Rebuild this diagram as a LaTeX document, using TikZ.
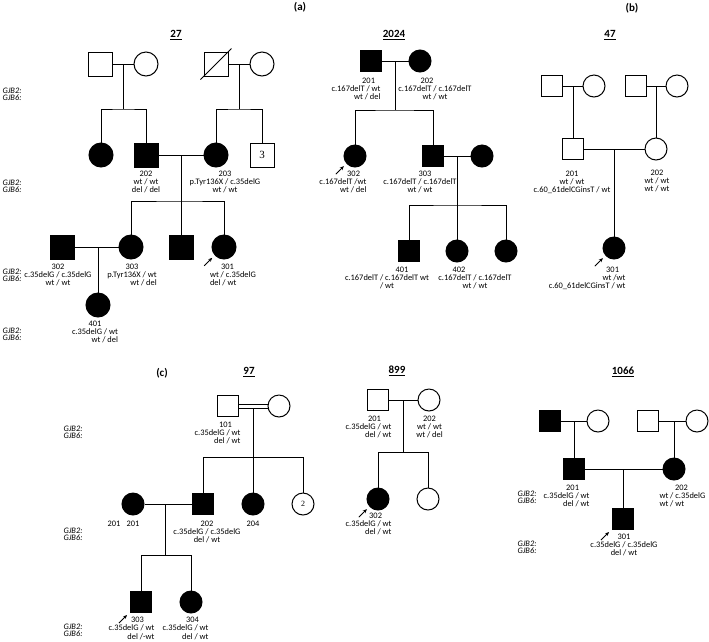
\documentclass[tikz,border=0pt]{standalone}
\usepackage{fontspec}
\setmainfont{Carlito}
\newfontfamily\numfont{Liberation Serif}
\usetikzlibrary{arrows.meta}
\newcommand\lblfont{\fontsize{8.4}{8}\selectfont}
\newcommand\genefont{\fontsize{8.4}{7}\selectfont\itshape}
\newcommand\gtx[2]{\begin{tabular}{@{}#1@{}}#2\end{tabular}}
\newcommand\rln[1]{\multicolumn{1}{@{}r@{}}{#1}}
\begin{document}
\begin{tikzpicture}[x=1pt,y=-1pt,line width=1pt,
    male/.style={draw,rectangle,minimum size=21pt,inner sep=0},
    female/.style={draw,circle,minimum size=22pt,inner sep=0},
    big/.style={minimum size=24pt},
    aff/.style={fill=black},
    lbl/.style={anchor=north,inner sep=0,font=\lblfont},
    gene/.style={anchor=west,align=left,inner sep=0,font=\genefont},
    fam/.style={inner sep=0,font=\fontsize{11}{12}\selectfont\bfseries},
    panel/.style={inner sep=0,font=\fontsize{11}{12}\selectfont\bfseries},
    proband/.style={-{Stealth[length=4pt,width=3.5pt]},line width=0.9pt}]
    \useasboundingbox (0,0) rectangle (709,641);

    \node[panel] (pa) at (300,7) {(a)};
    \node[panel] (pb) at (632,8) {(b)};
    \node[panel] (pc) at (162,373) {(c)};
    \foreach \n/\x/\y in {27/176/35,2024/394/35,47/610/35,97/249/372,899/397/371,1066/623/372}
        {\node[fam] (h\n) at (\x,\y) {\underline{\n}};}
    \foreach \x/\y [count=\i] in {2/94.5,2/186,2/275.5,2/334.5,63/432.5,63/534.5,63/630,517/497.5,517/547.5}
        {\node[gene] (g\i) at (\x,\y) {GJB2:\\GJB6:};}

    % 27
    \node[male,big] (m27a) at (100,64) {};
    \node[female,big] (f27a) at (146,64) {};
    \node[male,big] (m27b) at (216,64) {};
    \node[female,big] (f27b) at (262,64) {};
    \node[female,big,aff] (f27c) at (101,155) {};
    \node[male,big,aff] (m27-202) at (146,155) {};
    \node[female,big,aff] (f27-203) at (216,155) {};
    \node[male,big] (m27-3) at (262,155) {\fontsize{11}{12}\numfont 3};
    \node[male,big,aff] (m27-302) at (62,247) {};
    \node[female,big,aff] (f27-303) at (131,247) {};
    \node[male,big,aff] (m27-s) at (181,247) {};
    \node[female,big,aff] (f27-301) at (224,247) {};
    \node[female,big,aff] (f27-401) at (98,305) {};
    \draw ([shift={(-3,3)}]m27b.south west) -- ([shift={(3,-3)}]m27b.north east);
    \coordinate (s27a) at (123,109);
    \coordinate (s27b) at (239,109);
    \coordinate (s27c) at (181,201);
    \draw (m27a) -- (f27a);
    \draw (m27b) -- (f27b);
    \draw (m27-202) -- (f27-203);
    \draw (m27-302) -- (f27-303);
    \draw (s27a |- m27a) -- (s27a);
    \draw (s27b |- m27b) -- (s27b);
    \draw (s27c |- m27-202) -- (s27c);
    \draw (f27c.north) |- (s27a) -| (m27-202.north);
    \draw (f27-203.north) |- (s27b) -| (m27-3.north);
    \draw (f27-303.north) |- (s27c) -| (f27-301.north);
    \draw (s27c) -- (m27-s.north);
    \draw (f27-401.north |- m27-302) -- (f27-401);
    \node[lbl] (t27-202) at (146,170) {\gtx{c}{202\\wt / wt\\del / del}};
    \node[lbl] (t27-203) at (225,170) {\gtx{c}{203\\p.Tyr136X / c.35delG\\wt / wt}};
    \node[lbl] (t27-302) at (58,263) {\gtx{c}{302\\c.35delG / c.35delG\\wt / wt}};
    \node[lbl] (t27-303) at (132,263) {\gtx{c}{303\\p.Tyr136X / wt\\\rln{wt / del}}};
    \node[lbl,anchor=north west] (t27-301) at (209.5,263) {\gtx{l}{\hspace*{11pt}301\\wt / c.35delG\\del / wt}};
    \node[lbl] (t27-401) at (95,320) {\gtx{c}{401\\c.35delG / wt\\\rln{wt / del}}};
    \draw[proband] ([shift={(-11,10)}]f27-301.south west) -- ([shift={(-3,2)}]f27-301.south west);

    % 2024
    \node[male,aff] (m24-201) at (371,61) {};
    \node[female,aff] (f24-202) at (420,61) {};
    \node[female,aff] (f24-302) at (355,156) {};
    \node[male,aff] (m24-303) at (433,156) {};
    \node[female,aff] (f24-s) at (482,156) {};
    \node[male,aff] (m24-401) at (409,251) {};
    \node[female,aff] (f24-402) at (457,251) {};
    \node[female,aff] (f24-403) at (506,251) {};
    \coordinate (s24a) at (395,110);
    \coordinate (s24b) at (457,205);
    \draw (m24-201) -- (f24-202);
    \draw (m24-303) -- (f24-s);
    \draw (s24a |- m24-201) -- (s24a);
    \draw (s24b |- m24-303) -- (s24b);
    \draw (f24-302.north) |- (s24a) -| (m24-303.north);
    \draw (m24-401.north) |- (s24b) -| (f24-403.north);
    \draw (s24b) -- (f24-402.north);
    \node[lbl,anchor=north east] (t24-201) at (381,77) {\gtx{r}{201\hspace*{5.5pt}\\c.167delT / wt\\wt / del}};
    \node[lbl] (t24-202) at (435,77) {\gtx{c}{202\hspace*{16pt}\\c.167delT / c.167delT\\wt / wt}};
    \node[lbl,anchor=north east] (t24-302) at (367,170) {\gtx{r}{302\hspace*{6.5pt}\\c.167delT /wt\\wt / del}};
    \node[lbl] (t24-303) at (420,170) {\gtx{c}{\hspace*{10pt}303\\c.167delT / c.167delT\\wt / wt}};
    \node[lbl] (t24-401) at (387,266) {\gtx{c}{\hspace*{30pt}401\\c.167delT / c.167delT wt\\/ wt}};
    \node[lbl] (t24-402) at (475,266) {\gtx{c}{402\hspace*{32pt}\\c.167delT / c.167delT\\wt / wt}};
    \draw[proband] ([shift={(-11,10)}]f24-302.south west) -- ([shift={(-3,2)}]f24-302.south west);

    % 47
    \node[male] (m47a) at (552,86) {};
    \node[female] (f47a) at (594,86) {};
    \node[male] (m47b) at (636,86) {};
    \node[female] (f47b) at (677,86) {};
    \node[male] (m47-201) at (573,149) {};
    \node[female] (f47-202) at (656,149) {};
    \node[female,aff] (f47-301) at (614,248) {};
    \draw (m47a) -- (f47a);
    \draw (m47b) -- (f47b);
    \draw (m47-201) -- (f47-202);
    \draw (m47-201 |- m47a) -- (m47-201);
    \draw (f47-202 |- m47b) -- (f47-202);
    \draw (f47-301 |- m47-201) -- (f47-301);
    \node[lbl] (t47-201) at (572,170) {\gtx{c}{201\\wt / wt\\c.60\_61delCGinsT / wt}};
    \node[lbl] (t47-202) at (657,169) {\gtx{c}{202\\wt / wt\\wt / wt}};
    \node[lbl,anchor=north east] (t47-301) at (626,266) {\gtx{r}{301\hspace*{6.5pt}\\wt /wt\\c.60\_61delCGinsT / wt}};
    \draw[proband] ([shift={(-11,10)}]f47-301.south west) -- ([shift={(-3,2)}]f47-301.south west);

    % 97
    \node[male] (m97-101) at (228,406) {};
    \node[female] (f97-102) at (279,406) {};
    \node[female,aff] (f97-201) at (133,504) {};
    \node[male,aff] (m97-202) at (203,504) {};
    \node[female,aff] (f97-204) at (253,504) {};
    \node[female] (f97-2) at (303,504) {\fontsize{8}{9}\numfont 2};
    \node[male,aff] (m97-303) at (141,602) {};
    \node[female,aff] (f97-304) at (191,602) {};
    \coordinate (s97a) at (253,457);
    \coordinate (s97b) at (165,555);
    \draw ([yshift=2pt]m97-101.east) -- ([yshift=2pt]f97-102.west);
    \draw ([yshift=-2pt]m97-101.east) -- ([yshift=-2pt]f97-102.west);
    \draw (f97-201) -- (m97-202);
    \draw ([yshift=-2pt]s97a |- m97-101) -- (s97a);
    \draw (s97b |- f97-201) -- (s97b);
    \draw (m97-202.north) |- (s97a) -| (f97-2.north);
    \draw (s97a) -- (f97-204.north);
    \draw (m97-303.north) |- (s97b) -| (f97-304.north);
    \node[lbl,anchor=north east] (t97-101) at (241,421) {\gtx{r}{101\hspace*{8.5pt}\\c.35delG / wt\\del / wt}};
    \node[lbl] (t97-201) at (123.5,520) {\gtx{c}{201\hspace{6pt}201}};
    \node[lbl] (t97-202) at (207,520) {\gtx{c}{202\\c.35delG / c.35delG\\del / wt}};
    \node[lbl] (t97-204) at (253,520) {\gtx{c}{204}};
    \node[lbl,anchor=north east] (t97-303) at (155,616.5) {\gtx{r}{303\hspace*{10.5pt}\\c.35delG / wt\\del /-wt}};
    \node[lbl,anchor=north east] (t97-304) at (209,616.5) {\gtx{r}{304\hspace*{9.5pt}\\c.35delG / wt\\del / wt}};
    \draw[proband] ([shift={(-11,10)}]m97-303.south west) -- ([shift={(-3,2)}]m97-303.south west);

    % 899
    \node[male] (m99-201) at (378,400) {};
    \node[female] (f99-202) at (429,400) {};
    \node[female,aff] (f99-302) at (378,499) {};
    \node[female] (f99-303) at (428,499) {};
    \coordinate (s99) at (403,452);
    \draw (m99-201) -- (f99-202);
    \draw (s99 |- m99-201) -- (s99);
    \draw (f99-302.north) |- (s99) -| (f99-303.north);
    \node[lbl,anchor=north east] (t99-201) at (392,415) {\gtx{r}{201\hspace*{10.5pt}\\c.35delG / wt\\del / wt}};
    \node[lbl] (t99-202) at (429.5,415) {\gtx{c}{202\\wt / wt\\wt / del}};
    \node[lbl,anchor=north east] (t99-302) at (392,512) {\gtx{r}{302\hspace*{9.5pt}\\c.35delG / wt\\del / wt}};
    \draw[proband] ([shift={(-11,10)}]f99-302.south west) -- ([shift={(-3,2)}]f99-302.south west);

    % 1066
    \node[male,aff] (m66a) at (550,421) {};
    \node[female] (f66a) at (598,421) {};
    \node[male] (m66b) at (648,421) {};
    \node[female] (f66b) at (697,421) {};
    \node[male,aff] (m66-201) at (574,469) {};
    \node[female,aff] (f66-202) at (674,469) {};
    \node[male,aff] (m66-301) at (623,519) {};
    \draw (m66a) -- (f66a);
    \draw (m66b) -- (f66b);
    \draw (m66-201) -- (f66-202);
    \draw (m66-201 |- m66a) -- (m66-201);
    \draw (f66-202 |- m66b) -- (f66-202);
    \draw (m66-301 |- m66-201) -- (m66-301);
    \node[lbl,anchor=north east] (t66-201) at (590,484) {\gtx{r}{201\hspace*{10.5pt}\\c.35delG / wt\\del / wt}};
    \node[lbl,anchor=north west] (t66-202) at (659,484) {\gtx{l}{\hspace*{15.5pt}202\\wt / c.35delG\\wt / wt}};
    \node[lbl] (t66-301) at (624,533) {\gtx{c}{301\\c.35delG / c.35delG\\del / wt}};
    \draw[proband] ([shift={(-11,10)}]m66-301.south west) -- ([shift={(-3,2)}]m66-301.south west);
\end{tikzpicture}
\end{document}
